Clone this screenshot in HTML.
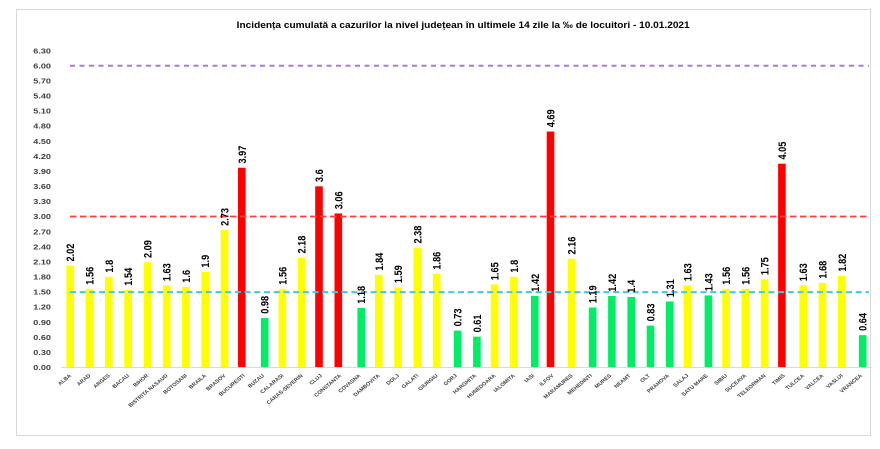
<!DOCTYPE html>
<html><head><meta charset="utf-8"><style>
html,body{margin:0;padding:0;background:#fff;}
svg{display:block;}
text{font-family:"Liberation Sans",sans-serif;font-weight:bold;}
</style></head><body>
<svg width="880" height="449" viewBox="0 0 880 449" xmlns="http://www.w3.org/2000/svg">
<rect x="0" y="0" width="880" height="449" fill="#fff"/>
<rect x="16.5" y="9.5" width="854" height="426" fill="#fff" stroke="#d9d9d9" stroke-width="1"/>
<text x="236.7" y="28" font-size="9.6" fill="#000" textLength="453" lengthAdjust="spacingAndGlyphs">Incidența cumulată a cazurilor la nivel județean în ultimele 14 zile la ‰ de locuitori - 10.01.2021</text>

<g font-size="7.6" fill="#404040" text-anchor="end">
<text transform="translate(51,370) scale(1.2,1)">0.00</text>
<text transform="translate(51,354.9) scale(1.2,1)">0.30</text>
<text transform="translate(51,339.8) scale(1.2,1)">0.60</text>
<text transform="translate(51,324.8) scale(1.2,1)">0.90</text>
<text transform="translate(51,309.7) scale(1.2,1)">1.20</text>
<text transform="translate(51,294.6) scale(1.2,1)">1.50</text>
<text transform="translate(51,279.5) scale(1.2,1)">1.80</text>
<text transform="translate(51,264.4) scale(1.2,1)">2.10</text>
<text transform="translate(51,249.4) scale(1.2,1)">2.40</text>
<text transform="translate(51,234.3) scale(1.2,1)">2.70</text>
<text transform="translate(51,219.2) scale(1.2,1)">3.00</text>
<text transform="translate(51,204.1) scale(1.2,1)">3.30</text>
<text transform="translate(51,189) scale(1.2,1)">3.60</text>
<text transform="translate(51,174) scale(1.2,1)">3.90</text>
<text transform="translate(51,158.9) scale(1.2,1)">4.20</text>
<text transform="translate(51,143.8) scale(1.2,1)">4.50</text>
<text transform="translate(51,128.7) scale(1.2,1)">4.80</text>
<text transform="translate(51,113.6) scale(1.2,1)">5.10</text>
<text transform="translate(51,98.5) scale(1.2,1)">5.40</text>
<text transform="translate(51,83.5) scale(1.2,1)">5.70</text>
<text transform="translate(51,68.4) scale(1.2,1)">6.00</text>
<text transform="translate(51,53.3) scale(1.2,1)">6.30</text>
</g>

<!-- bars -->
<g>
<rect x="66.4" y="265.75" width="7.6" height="101.55" fill="#ffff00"/>
<rect x="85.7" y="288.88" width="7.6" height="78.42" fill="#ffff00"/>
<rect x="105" y="276.81" width="7.6" height="90.49" fill="#ffff00"/>
<rect x="124.3" y="289.88" width="7.6" height="77.42" fill="#ffff00"/>
<rect x="143.6" y="262.24" width="7.6" height="105.06" fill="#ffff00"/>
<rect x="162.9" y="285.36" width="7.6" height="81.94" fill="#ffff00"/>
<rect x="182.1" y="286.87" width="7.6" height="80.43" fill="#ffff00"/>
<rect x="201.4" y="271.79" width="7.6" height="95.51" fill="#ffff00"/>
<rect x="220.7" y="230.06" width="7.6" height="137.24" fill="#ffff00"/>
<rect x="238" y="167.73" width="7.6" height="199.57" fill="#ff0000"/>
<rect x="260.9" y="318.04" width="7.6" height="49.26" fill="#00ee66"/>
<rect x="278.6" y="288.88" width="7.6" height="78.42" fill="#ffff00"/>
<rect x="297.9" y="257.71" width="7.6" height="109.59" fill="#ffff00"/>
<rect x="315.2" y="186.33" width="7.6" height="180.97" fill="#ff0000"/>
<rect x="334.5" y="213.47" width="7.6" height="153.83" fill="#ff0000"/>
<rect x="357.4" y="307.98" width="7.6" height="59.32" fill="#00ee66"/>
<rect x="375" y="274.8" width="7.6" height="92.5" fill="#ffff00"/>
<rect x="394.3" y="287.37" width="7.6" height="79.93" fill="#ffff00"/>
<rect x="413.6" y="247.66" width="7.6" height="119.64" fill="#ffff00"/>
<rect x="432.9" y="273.8" width="7.6" height="93.5" fill="#ffff00"/>
<rect x="453.8" y="330.6" width="7.6" height="36.7" fill="#00ee66"/>
<rect x="473.1" y="336.64" width="7.6" height="30.66" fill="#00ee66"/>
<rect x="490.8" y="284.35" width="7.6" height="82.95" fill="#ffff00"/>
<rect x="510.1" y="276.81" width="7.6" height="90.49" fill="#ffff00"/>
<rect x="531" y="295.92" width="7.6" height="71.38" fill="#00ee66"/>
<rect x="546.7" y="131.53" width="7.6" height="235.77" fill="#ff0000"/>
<rect x="567.9" y="258.72" width="7.6" height="108.58" fill="#ffff00"/>
<rect x="588.8" y="307.48" width="7.6" height="59.82" fill="#00ee66"/>
<rect x="608.1" y="295.92" width="7.6" height="71.38" fill="#00ee66"/>
<rect x="627.4" y="296.92" width="7.6" height="70.38" fill="#00ee66"/>
<rect x="646.7" y="325.58" width="7.6" height="41.72" fill="#00ee66"/>
<rect x="666" y="301.45" width="7.6" height="65.85" fill="#00ee66"/>
<rect x="683.7" y="285.36" width="7.6" height="81.94" fill="#ffff00"/>
<rect x="704.6" y="295.41" width="7.6" height="71.89" fill="#00ee66"/>
<rect x="722.3" y="288.88" width="7.6" height="78.42" fill="#ffff00"/>
<rect x="741.6" y="288.88" width="7.6" height="78.42" fill="#ffff00"/>
<rect x="760.8" y="279.33" width="7.6" height="87.97" fill="#ffff00"/>
<rect x="778.1" y="163.71" width="7.6" height="203.59" fill="#ff0000"/>
<rect x="799.4" y="285.36" width="7.6" height="81.94" fill="#ffff00"/>
<rect x="818.7" y="282.85" width="7.6" height="84.45" fill="#ffff00"/>
<rect x="838" y="275.81" width="7.6" height="91.49" fill="#ffff00"/>
<rect x="858.9" y="335.13" width="7.6" height="32.17" fill="#00ee66"/>
</g>

<!-- axis -->
<line x1="61" y1="367.5" x2="871.5" y2="367.5" stroke="#d9d9d9" stroke-width="1"/>

<!-- reference lines -->
<line x1="70" y1="65.7" x2="869" y2="65.7" stroke="#a879d6" stroke-width="2" stroke-dasharray="5,4.5"/>
<line x1="70" y1="216.5" x2="869" y2="216.5" stroke="#ff3b3b" stroke-width="1.8" stroke-dasharray="6.5,3.5"/>
<line x1="70" y1="292.1" x2="869" y2="292.1" stroke="#3fc8f0" stroke-width="2" stroke-dasharray="6,3.7"/>

<!-- value labels -->
<g font-size="9.2" fill="#000">
<text transform="translate(74.2,261.5) scale(1.2,1) rotate(-90)">2.02</text>
<text transform="translate(93.5,284.7) scale(1.2,1) rotate(-90)">1.56</text>
<text transform="translate(112.8,272.6) scale(1.2,1) rotate(-90)">1.8</text>
<text transform="translate(132.1,285.7) scale(1.2,1) rotate(-90)">1.54</text>
<text transform="translate(151.4,258) scale(1.2,1) rotate(-90)">2.09</text>
<text transform="translate(170.7,281.2) scale(1.2,1) rotate(-90)">1.63</text>
<text transform="translate(189.9,282.7) scale(1.2,1) rotate(-90)">1.6</text>
<text transform="translate(209.2,267.6) scale(1.2,1) rotate(-90)">1.9</text>
<text transform="translate(228.5,225.9) scale(1.2,1) rotate(-90)">2.73</text>
<text transform="translate(245.8,163.5) scale(1.2,1) rotate(-90)">3.97</text>
<text transform="translate(268.7,313.8) scale(1.2,1) rotate(-90)">0.98</text>
<text transform="translate(286.4,284.7) scale(1.2,1) rotate(-90)">1.56</text>
<text transform="translate(305.7,253.5) scale(1.2,1) rotate(-90)">2.18</text>
<text transform="translate(323,182.1) scale(1.2,1) rotate(-90)">3.6</text>
<text transform="translate(342.3,209.3) scale(1.2,1) rotate(-90)">3.06</text>
<text transform="translate(365.2,303.8) scale(1.2,1) rotate(-90)">1.18</text>
<text transform="translate(382.8,270.6) scale(1.2,1) rotate(-90)">1.84</text>
<text transform="translate(402.1,283.2) scale(1.2,1) rotate(-90)">1.59</text>
<text transform="translate(421.4,243.5) scale(1.2,1) rotate(-90)">2.38</text>
<text transform="translate(440.7,269.6) scale(1.2,1) rotate(-90)">1.86</text>
<text transform="translate(461.6,326.4) scale(1.2,1) rotate(-90)">0.73</text>
<text transform="translate(480.9,332.4) scale(1.2,1) rotate(-90)">0.61</text>
<text transform="translate(498.6,280.2) scale(1.2,1) rotate(-90)">1.65</text>
<text transform="translate(517.9,272.6) scale(1.2,1) rotate(-90)">1.8</text>
<text transform="translate(538.8,291.7) scale(1.2,1) rotate(-90)">1.42</text>
<text transform="translate(554.5,127.3) scale(1.2,1) rotate(-90)">4.69</text>
<text transform="translate(575.7,254.5) scale(1.2,1) rotate(-90)">2.16</text>
<text transform="translate(596.6,303.3) scale(1.2,1) rotate(-90)">1.19</text>
<text transform="translate(615.9,291.7) scale(1.2,1) rotate(-90)">1.42</text>
<text transform="translate(635.2,292.7) scale(1.2,1) rotate(-90)">1.4</text>
<text transform="translate(654.5,321.4) scale(1.2,1) rotate(-90)">0.83</text>
<text transform="translate(673.8,297.2) scale(1.2,1) rotate(-90)">1.31</text>
<text transform="translate(691.5,281.2) scale(1.2,1) rotate(-90)">1.63</text>
<text transform="translate(712.4,291.2) scale(1.2,1) rotate(-90)">1.43</text>
<text transform="translate(730.1,284.7) scale(1.2,1) rotate(-90)">1.56</text>
<text transform="translate(749.4,284.7) scale(1.2,1) rotate(-90)">1.56</text>
<text transform="translate(768.6,275.1) scale(1.2,1) rotate(-90)">1.75</text>
<text transform="translate(785.9,159.5) scale(1.2,1) rotate(-90)">4.05</text>
<text transform="translate(807.2,281.2) scale(1.2,1) rotate(-90)">1.63</text>
<text transform="translate(826.5,278.6) scale(1.2,1) rotate(-90)">1.68</text>
<text transform="translate(845.8,271.6) scale(1.2,1) rotate(-90)">1.82</text>
<text transform="translate(866.7,330.9) scale(1.2,1) rotate(-90)">0.64</text>
</g>

<!-- category labels -->
<g font-size="4.9" fill="#404040" text-anchor="end">
<text transform="translate(71.7,376) scale(1.2,1) rotate(-45)">ALBA</text>
<text transform="translate(91,376) scale(1.2,1) rotate(-45)">ARAD</text>
<text transform="translate(110.3,376) scale(1.2,1) rotate(-45)">ARGES</text>
<text transform="translate(129.6,376) scale(1.2,1) rotate(-45)">BACAU</text>
<text transform="translate(148.9,376) scale(1.2,1) rotate(-45)">BIHOR</text>
<text transform="translate(168.2,376) scale(1.2,1) rotate(-45)">BISTRITA NASAUD</text>
<text transform="translate(187.4,376) scale(1.2,1) rotate(-45)">BOTOSANI</text>
<text transform="translate(206.7,376) scale(1.2,1) rotate(-45)">BRAILA</text>
<text transform="translate(226,376) scale(1.2,1) rotate(-45)">BRASOV</text>
<text transform="translate(245.3,376) scale(1.2,1) rotate(-45)">BUCURESTI</text>
<text transform="translate(264.6,376) scale(1.2,1) rotate(-45)">BUZAU</text>
<text transform="translate(283.9,376) scale(1.2,1) rotate(-45)">CALARASI</text>
<text transform="translate(303.2,376) scale(1.2,1) rotate(-45)">CARAS-SEVERIN</text>
<text transform="translate(322.5,376) scale(1.2,1) rotate(-45)">CLUJ</text>
<text transform="translate(341.8,376) scale(1.2,1) rotate(-45)">CONSTANTA</text>
<text transform="translate(361,376) scale(1.2,1) rotate(-45)">COVASNA</text>
<text transform="translate(380.3,376) scale(1.2,1) rotate(-45)">DAMBOVITA</text>
<text transform="translate(399.6,376) scale(1.2,1) rotate(-45)">DOLJ</text>
<text transform="translate(418.9,376) scale(1.2,1) rotate(-45)">GALATI</text>
<text transform="translate(438.2,376) scale(1.2,1) rotate(-45)">GIURGIU</text>
<text transform="translate(457.5,376) scale(1.2,1) rotate(-45)">GORJ</text>
<text transform="translate(476.8,376) scale(1.2,1) rotate(-45)">HARGHITA</text>
<text transform="translate(496.1,376) scale(1.2,1) rotate(-45)">HUNEDOARA</text>
<text transform="translate(515.4,376) scale(1.2,1) rotate(-45)">IALOMITA</text>
<text transform="translate(534.7,376) scale(1.2,1) rotate(-45)">IASI</text>
<text transform="translate(554,376) scale(1.2,1) rotate(-45)">ILFOV</text>
<text transform="translate(573.2,376) scale(1.2,1) rotate(-45)">MARAMURES</text>
<text transform="translate(592.5,376) scale(1.2,1) rotate(-45)">MEHEDINTI</text>
<text transform="translate(611.8,376) scale(1.2,1) rotate(-45)">MURES</text>
<text transform="translate(631.1,376) scale(1.2,1) rotate(-45)">NEAMT</text>
<text transform="translate(650.4,376) scale(1.2,1) rotate(-45)">OLT</text>
<text transform="translate(669.7,376) scale(1.2,1) rotate(-45)">PRAHOVA</text>
<text transform="translate(689,376) scale(1.2,1) rotate(-45)">SALAJ</text>
<text transform="translate(708.3,376) scale(1.2,1) rotate(-45)">SATU MARE</text>
<text transform="translate(727.6,376) scale(1.2,1) rotate(-45)">SIBIU</text>
<text transform="translate(746.9,376) scale(1.2,1) rotate(-45)">SUCEAVA</text>
<text transform="translate(766.1,376) scale(1.2,1) rotate(-45)">TELEORMAN</text>
<text transform="translate(785.4,376) scale(1.2,1) rotate(-45)">TIMIS</text>
<text transform="translate(804.7,376) scale(1.2,1) rotate(-45)">TULCEA</text>
<text transform="translate(824,376) scale(1.2,1) rotate(-45)">VALCEA</text>
<text transform="translate(843.3,376) scale(1.2,1) rotate(-45)">VASLUI</text>
<text transform="translate(862.6,376) scale(1.2,1) rotate(-45)">VRANCEA</text>
</g>
</svg>
</body></html>
